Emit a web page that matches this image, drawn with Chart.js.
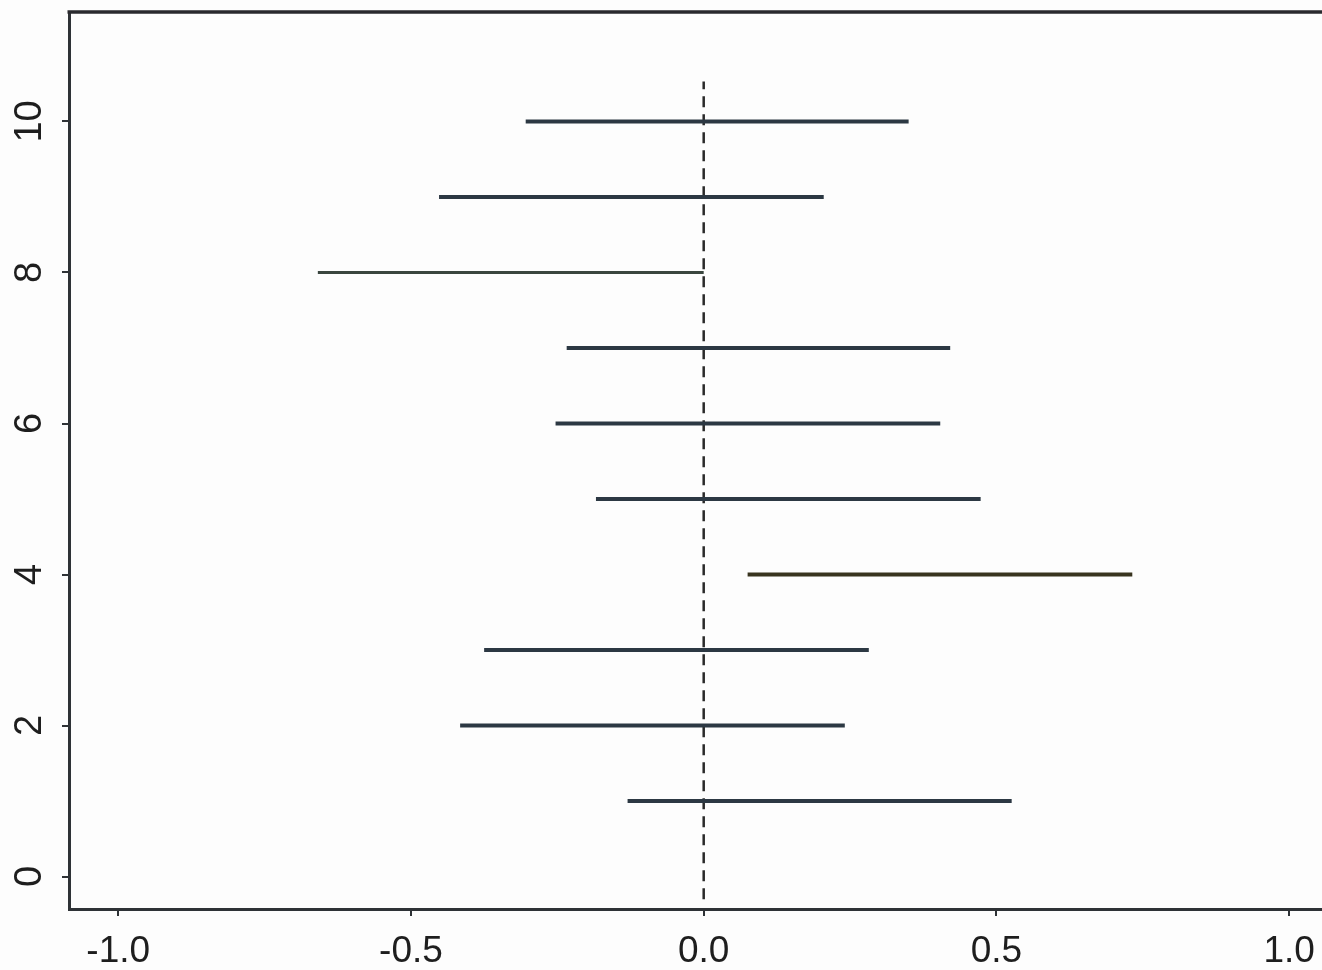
<!DOCTYPE html>
<html>
<head>
<meta charset="utf-8">
<script src="https://cdn.jsdelivr.net/npm/chart.js@4.4.1/dist/chart.umd.min.js"></script>
<style>
  html, body { margin: 0; padding: 0; background: #fdfdfd; }
  #wrap { width: 1322px; height: 970px; }
</style>
</head>
<body>
<div id="wrap"><canvas id="c" width="1322" height="970"></canvas></div>
<script>
// Row indices (y positions of intervals)
const rows = [1, 2, 3, 4, 5, 6, 7, 8, 9, 10];
// Lower and upper ends of each interval
const lowerBounds = [-0.130, -0.416, -0.375, 0.075, -0.184, -0.253, -0.234, -0.659, -0.452, -0.304];
const upperBounds = [0.526, 0.241, 0.282, 0.732, 0.473, 0.404, 0.421, 0.000, 0.205, 0.350];
// Reference line (x = 0) extent
const refLineX = [0, 0];
const refLineY = [-0.3, 10.53];
// Tick labels
const xTickValues = [-1.0, -0.5, 0.0, 0.5, 1.0];
const yTickValues = [0, 2, 4, 6, 8, 10];

const axisColor = '#2e3236';
const styleFor = (r) => {
  if (r === 4) return { color: '#38341f', width: 4 };
  if (r === 8) return { color: '#3a463f', width: 3 };
  return { color: '#2c3843', width: 4 };
};

const datasets = rows.map((r, i) => {
  const s = styleFor(r);
  return {
    data: [{ x: lowerBounds[i], y: r }, { x: upperBounds[i], y: r }],
    showLine: true,
    borderColor: s.color,
    borderWidth: s.width,
    pointRadius: 0,
    borderCapStyle: 'butt'
  };
});
datasets.push({
  data: refLineX.map((x, i) => ({ x, y: refLineY[i] })),
  showLine: true,
  borderColor: '#2a2a2a',
  borderWidth: 2.5,
  borderDash: [11, 7],
  pointRadius: 0
});

const topFrame = {
  id: 'topFrame',
  afterDraw(chart) {
    const { ctx, chartArea } = chart;
    ctx.save();
    ctx.strokeStyle = '#2a2a2e';
    ctx.lineWidth = 3.5;
    ctx.beginPath();
    ctx.moveTo(chartArea.left - 1.5, chartArea.top);
    ctx.lineTo(chartArea.right, chartArea.top);
    ctx.stroke();
    ctx.restore();
  }
};

const xFont = { family: '"Liberation Sans", Arial, sans-serif', size: 37 };
const yFont = { family: '"Liberation Sans", Arial, sans-serif', size: 38 };

new Chart(document.getElementById('c'), {
  type: 'scatter',
  data: { datasets },
  options: {
    responsive: false,
    animation: false,
    events: [],
    layout: { padding: { top: 12, right: 0, left: 0, bottom: 0 } },
    plugins: { legend: { display: false }, tooltip: { enabled: false } },
    scales: {
      x: {
        type: 'linear',
        min: -1.084,
        max: 1.056,
        afterFit(scale) { scale.height = 61; scale.paddingLeft = 0; scale.paddingRight = 0; },
        afterBuildTicks(scale) { scale.ticks = xTickValues.map(v => ({ value: v })); },
        grid: { display: true, drawOnChartArea: false, drawTicks: true, tickLength: 7, color: axisColor, lineWidth: 2 },
        border: { display: true, color: axisColor, width: 3 },
        ticks: {
          color: '#1e1e1e', font: xFont, padding: 14, maxRotation: 0, autoSkip: false,
          callback: (v) => Number(v).toFixed(1)
        }
      },
      y: {
        type: 'linear',
        min: -0.43,
        max: 11.45,
        afterFit(scale) { scale.width = 69; scale.paddingTop = 0; scale.paddingBottom = 0; },
        afterBuildTicks(scale) { scale.ticks = yTickValues.map(v => ({ value: v })); },
        grid: { display: true, drawOnChartArea: false, drawTicks: true, tickLength: 7, color: axisColor, lineWidth: 2 },
        border: { display: true, color: axisColor, width: 3 },
        ticks: {
          color: '#1e1e1e', font: yFont, padding: 10, minRotation: 90, maxRotation: 90,
          crossAlign: 'center', autoSkip: false,
          callback: (v) => String(v)
        }
      }
    }
  },
  plugins: [topFrame]
});
</script>
</body>
</html>
